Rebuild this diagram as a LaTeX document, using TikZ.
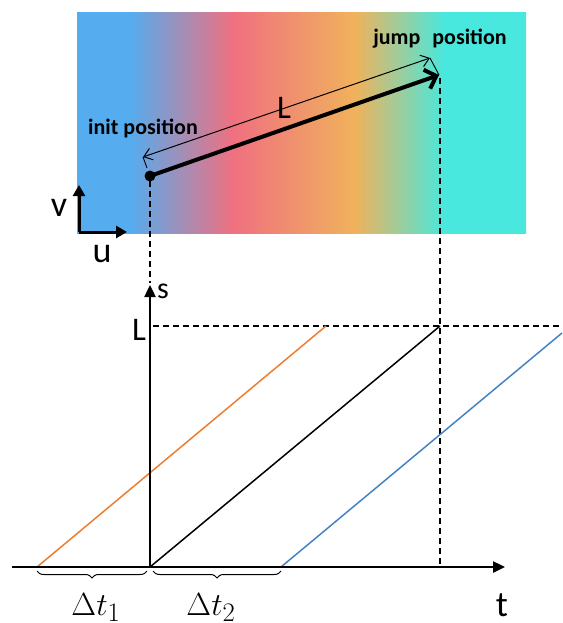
\documentclass[tikz,border=0pt]{standalone}
\usepackage{graphicx}
\usepackage{fontspec}
\setmainfont{Carlito}
\usetikzlibrary{arrows.meta,decorations.pathreplacing}
\definecolor{gblue}{RGB}{85,172,238}
\definecolor{gpink}{RGB}{240,112,128}
\definecolor{gorange}{RGB}{240,178,92}
\definecolor{gcyan}{RGB}{72,232,222}
\definecolor{lorange}{RGB}{237,125,49}
\definecolor{lblue}{RGB}{70,130,195}
\pgfdeclarehorizontalshading{bandshade}{100bp}{color(0bp)=(gblue); color(30.9bp)=(gblue); color(42.37bp)=(gpink); color(55.96bp)=(gorange); color(65.98bp)=(gcyan); color(100bp)=(gcyan)}
\tikzset{
  lbl/.style={inner sep=0pt, anchor=base},
  dashline/.style={line width=1.8pt, dash pattern=on 6pt off 4pt},
  axisline/.style={line width=2.4pt, -{Triangle[length=12pt,width=11pt]}},
  uvaxis/.style={line width=3pt, -{Triangle[length=11pt,width=12pt]}},
  tline/.style={line width=1.5pt},
  bracestyle/.style={line width=1pt, decorate, decoration={brace, mirror, amplitude=7pt}}
}
\begin{document}
\begin{tikzpicture}[x=1pt,y=-1pt]
\useasboundingbox (0,0) rectangle (562,623);
% gradient band
\shade[shading=bandshade] (77,13) rectangle (526,233);
% u v axes
\coordinate (O) at (79,232);
\coordinate (Vt) at (79,185);
\coordinate (Ut) at (127,232);
\draw[uvaxis] (O) -- (Vt);
\draw[uvaxis] (O) -- (Ut);
\node[lbl, font=\fontsize{36}{36}\selectfont] (v) at (59,216) {v};
\node[lbl, font=\fontsize{36}{36}\selectfont] (u) at (102,262) {u};
% positions
\coordinate (P0) at (150,176);
\coordinate (P1) at (439,75);
\coordinate (D0) at (143,157);
\coordinate (D1) at (430,58);
\coordinate (E0) at (147,168);
\draw[line width=4pt, -{Straight Barb[length=10pt,width=20pt]}] (P0) -- (P1);
\fill (P0) circle (5.5pt);
\draw[line width=0.9pt] (E0) -- (D0);
\draw[line width=0.9pt] (P1) -- (D1);
\draw[line width=1pt, {Straight Barb[length=8pt,width=12pt]}-{Straight Barb[length=8pt,width=12pt]}] (D0) -- (D1);
\node[lbl, font=\fontsize{33}{33}\selectfont] (Ltop) at (284,118) {L};
\node[lbl, font=\bfseries\fontsize{22}{22}\selectfont] (init) at (143,135) {init position};
\node[lbl, font=\bfseries\fontsize{22}{22}\selectfont] (jump) at (440,45) {jump\hspace{12pt}position};
% lower plot
\coordinate (T0) at (12,567);
\coordinate (T1) at (505,567);
\coordinate (S0) at (150,567);
\coordinate (S1) at (150,285);
\coordinate (Q0) at (150,181);
\coordinate (Q1) at (150,283);
\coordinate (J1) at (440,78);
\coordinate (J2) at (440,566);
\coordinate (H0) at (153,326);
\coordinate (H1) at (562,326);
\draw[dashline] (Q0) -- (Q1);
\draw[dashline] (J1) -- (J2);
\draw[dashline] (H0) -- (H1);
\coordinate (A0) at (37,567);
\coordinate (A1) at (326,326);
\coordinate (B1) at (440,326);
\coordinate (C0) at (281,567);
\coordinate (C1) at (562,333);
\draw[tline, lorange] (A0) -- (A1);
\draw[tline, black] (S0) -- (B1);
\draw[tline, lblue] (C0) -- (C1);
\draw[axisline] (T0) -- (T1);
\draw[axisline] (S0) -- (S1);
\node[lbl, font=\fontsize{30}{30}\selectfont] (s) at (163,298) {s};
\node[lbl, font=\fontsize{33}{33}\selectfont] (Lax) at (139,340) {L};
\node[lbl, font=\fontsize{36}{36}\selectfont] (t) at (502,616) {t};
\coordinate (Br0) at (37,571);
\coordinate (Br1) at (147,571);
\coordinate (Br2) at (153,571);
\coordinate (Br3) at (281,571);
\draw[bracestyle] (Br0) -- (Br1);
\draw[bracestyle] (Br2) -- (Br3);
\node[lbl, font=\fontsize{24.88}{24.88}\selectfont] (dt1) at (96,615) {\scalebox{1.29}{$\Delta t_1$}};
\node[lbl, font=\fontsize{24.88}{24.88}\selectfont] (dt2) at (211,615) {\scalebox{1.29}{$\Delta t_2$}};
\end{tikzpicture}
\end{document}
